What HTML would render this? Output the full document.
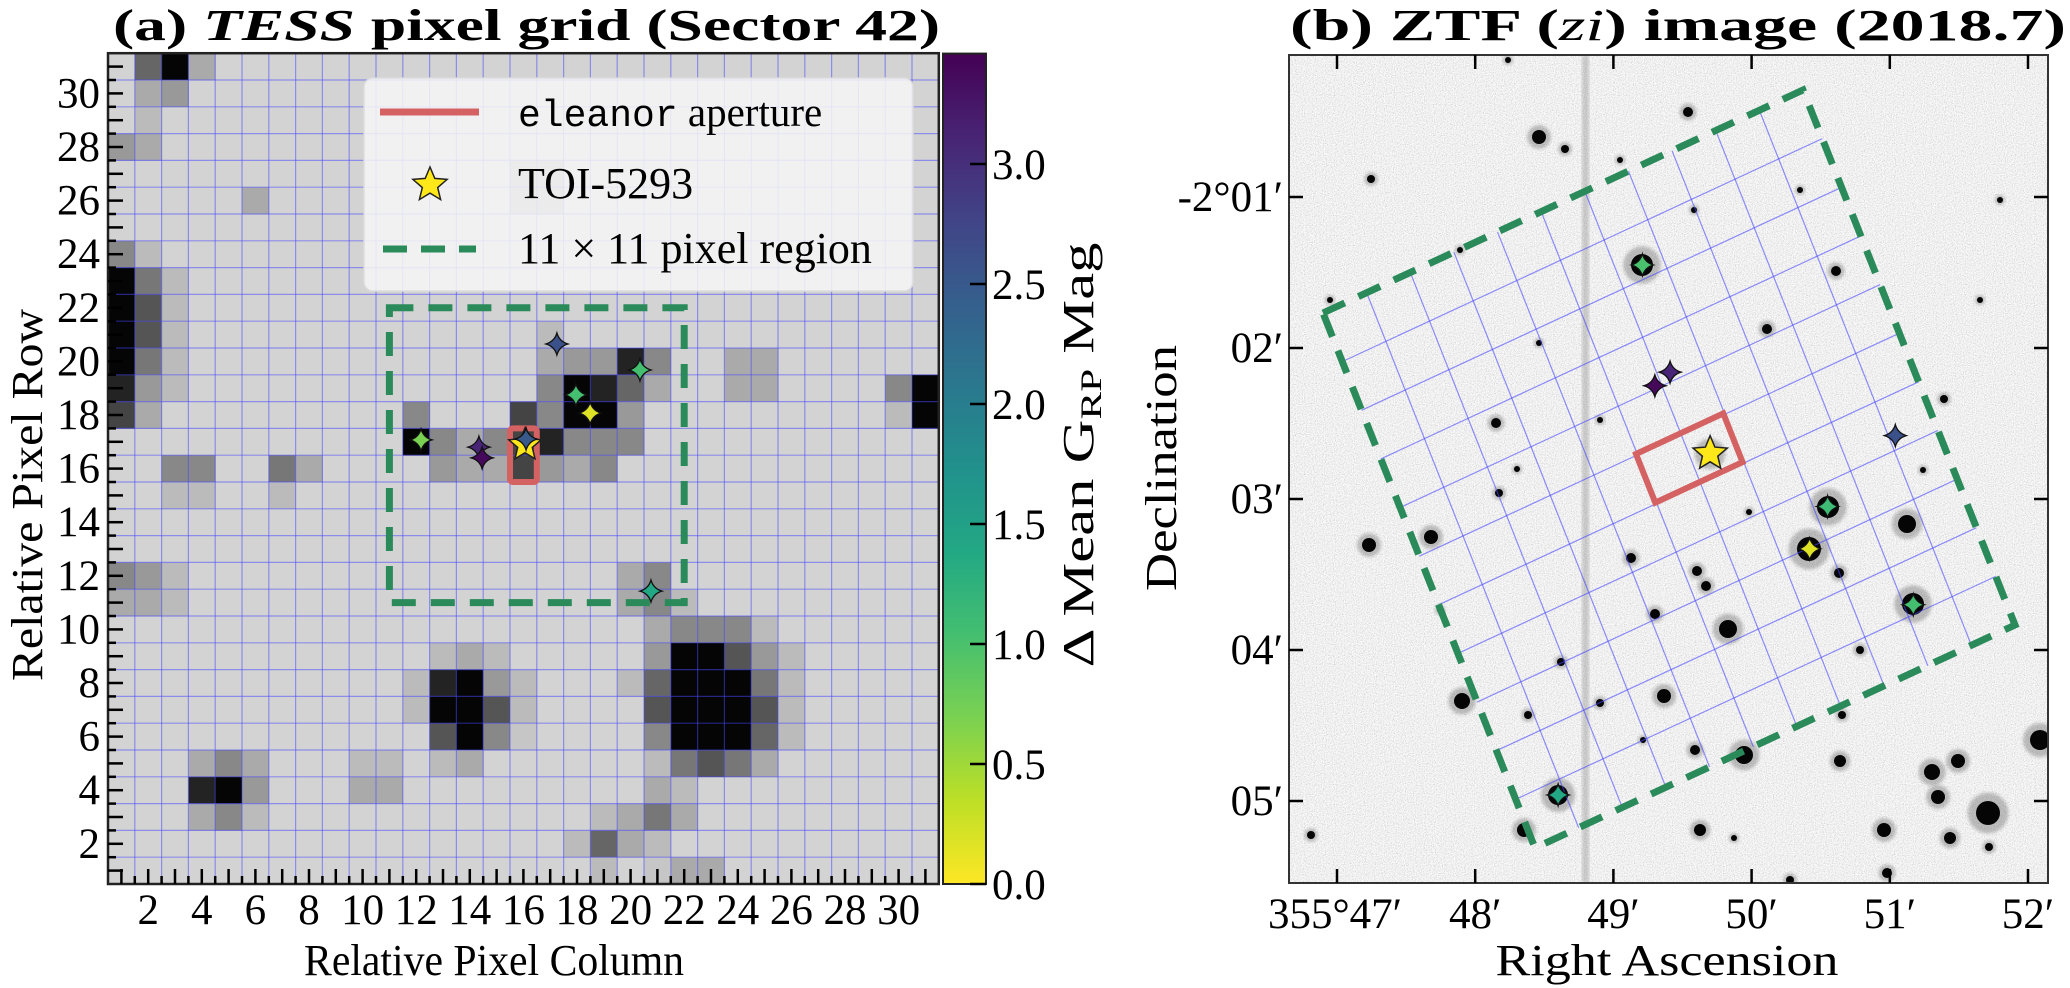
<!DOCTYPE html>
<html><head><meta charset="utf-8"><style>
html,body{margin:0;padding:0;background:#fff}
svg{display:block}
text{font-family:"Liberation Serif",serif;fill:#000}
</style></head><body>
<svg id="fig" width="2070" height="988" viewBox="0 0 2070 988" xmlns="http://www.w3.org/2000/svg">
<defs>
<linearGradient id="viridisV" x1="0" y1="1" x2="0" y2="0">
<stop offset="0" stop-color="#fde725"/><stop offset="0.1" stop-color="#bddf26"/><stop offset="0.2" stop-color="#7ad151"/><stop offset="0.3" stop-color="#44bf70"/><stop offset="0.4" stop-color="#22a884"/><stop offset="0.5" stop-color="#21918c"/><stop offset="0.6" stop-color="#2a788e"/><stop offset="0.7" stop-color="#355f8d"/><stop offset="0.8" stop-color="#414487"/><stop offset="0.9" stop-color="#482475"/><stop offset="1" stop-color="#440154"/>
</linearGradient>
<filter id="noise" x="0" y="0" width="100%" height="100%">
<feTurbulence type="fractalNoise" baseFrequency="0.9" numOctaves="2" seed="7"/>
<feColorMatrix type="saturate" values="0"/>
<feComponentTransfer><feFuncR type="linear" slope="1.3" intercept="0.25"/><feFuncG type="linear" slope="1.3" intercept="0.25"/><feFuncB type="linear" slope="1.3" intercept="0.25"/><feFuncA type="linear" slope="0" intercept="1"/></feComponentTransfer>
</filter>
<filter id="blur2"><feGaussianBlur stdDeviation="1.6"/></filter>
<clipPath id="clipB"><rect x="1289" y="55" width="759" height="828"/></clipPath>
</defs>
<g id="panelA"></g>
<g id="panelB"></g>
</svg>
<script>
// ---------- DATA ----------
// Panel (a) pixel grey levels; first string = row 31, last = row 1; one char per column 1..31
const pixelMap = [
".408...........................",
".87............................",
".9.............................",
"78.............................",
"...............88..............",
".....8.........88..............",
"...............................",
"69.............................",
"059............................",
"039............................",
"039.............9..............",
"059.............87716..88......",
"179.............60148..88....60",
"28.........6...26007.........90",
"...........068621666...........",
"..66..58....7882786............",
"..99..9........................",
"...............................",
"...............................",
"679................86..........",
"889................869.........",
"....................86669......",
"............989.....700379.....",
"...........91079...9400059.....",
"...........90039....300039.....",
"............306c....600049.....",
"...868...99.98......95358......",
"...107...88.........89.........",
"...869............9858.........",
".................9489..........",
"..................9.c88........"
];
// Colour-coded neighbour stars in panel (a): pixel column, pixel row, delta mean G_RP mag
const nbCol = [17.25, 20.35, 17.96, 18.49, 12.18, 14.34, 14.46, 16.1, 20.76];
const nbRow = [20.65, 19.68, 18.75, 18.07, 17.07, 16.8, 16.4, 17.1, 11.43];
const nbMag = [2.6, 1.04, 1.04, 0.17, 0.69, 3.1, 3.39, 2.5, 1.38];
const targetA = [16.06, 16.88];
// Panel (b) neighbour stars: RA arcmin past 355°, Dec arcmin below -2°
const bRA  = [49.21, 49.41, 49.30, 51.04, 50.55, 50.42, 51.17, 48.60];
const bDec = [1.45, 2.16, 2.25, 2.58, 3.05, 3.33, 3.70, 4.96];
const bMag = [1.0, 3.1, 3.39, 2.6, 1.1, 0.17, 1.04, 1.38];
const targetB = [49.70, 2.70];
const xTicksA = [2,4,6,8,10,12,14,16,18,20,22,24,26,28,30];
const yTicksA = [2,4,6,8,10,12,14,16,18,20,22,24,26,28,30];
const cbTicks = [0.0,0.5,1.0,1.5,2.0,2.5,3.0];
const raTicks = [47,48,49,50,51,52];
const raLabels = ["355°47′","48′","49′","50′","51′","52′"];
const decTicks = [1,2,3,4,5];
const decLabels = ["-2°01′","02′","03′","04′","05′"];

// ---------- helpers ----------
const NS = "http://www.w3.org/2000/svg";
function mk(tag, attrs, parent){const e=document.createElementNS(NS,tag);for(const k in attrs)e.setAttribute(k,attrs[k]);parent.appendChild(e);return e;}
const greyMap = {"0":"#050505","1":"#232323","2":"#444","3":"#555","4":"#666","5":"#777","6":"#888","7":"#999","8":"#aaa","9":"#bbb","c":"#c6c6c6"};
const vir = ["#fde725","#bddf26","#7ad151","#44bf70","#22a884","#21918c","#2a788e","#355f8d","#414487","#482475","#440154"];
const CMAX = 3.46;
function hex2rgb(h){return [parseInt(h.substr(1,2),16),parseInt(h.substr(3,2),16),parseInt(h.substr(5,2),16)];}
function cmap(v){let t=Math.max(0,Math.min(1,v/CMAX))*10;let i=Math.min(9,Math.floor(t));let f=t-i;const a=hex2rgb(vir[i]),b=hex2rgb(vir[i+1]);
 return "rgb("+a.map((x,k)=>Math.round(x+(b[k]-x)*f)).join(",")+")";}
function star4(x,y,s){const q=s*0.22;return `M${x},${y-s} Q${x+q},${y-q} ${x+s},${y} Q${x+q},${y+q} ${x},${y+s} Q${x-q},${y+q} ${x-s},${y} Q${x-q},${y-q} ${x},${y-s} Z`;}
function star5(x,y,R){const r=R*0.45;let p="";for(let i=0;i<10;i++){const a=-Math.PI/2+i*Math.PI/5;const rr=i%2?r:R;p+=(i?"L":"M")+(x+rr*Math.cos(a)).toFixed(1)+","+(y+rr*Math.sin(a)).toFixed(1);}return p+"Z";}

// ---------- Panel A ----------
const A = document.getElementById("panelA");
const AX0=108, AY0=884, CW=26.8, NC=31;
const xA = c => AX0+(c-0.5)*CW;
const yA = r => AY0-(r-0.5)*CW;
let bg = mk("rect",{x:AX0,y:AY0-NC*CW,width:NC*CW,height:NC*CW,fill:"#d3d3d3"},A);


pixelMap.forEach((rowStr,ri)=>{
  const r = NC - ri;
  for(let ci=0;ci<rowStr.length;ci++){
    const ch=rowStr[ci]; if(ch===".") continue;
    const c=ci+1;
    const cell=mk("rect",{x:(xA(c)-CW/2).toFixed(2),y:(yA(r)-CW/2).toFixed(2),width:CW+0.3,height:CW+0.3,fill:greyMap[ch]},A);
    
    
  }
});
const gA = mk("g",{stroke:"rgba(70,70,255,0.5)","stroke-width":1.2},A);


for(let k=1;k<NC;k++){
  mk("line",{x1:AX0+k*CW,y1:AY0-NC*CW,x2:AX0+k*CW,y2:AY0},gA);
  mk("line",{x1:AX0,y1:AY0-k*CW,x2:AX0+NC*CW,y2:AY0-k*CW},gA);
}
const reg = mk("rect",{x:xA(10.5)+CW/2,y:yA(21.5)-CW/2,width:11*CW,height:11*CW,fill:"none",stroke:"#2a8a5a","stroke-width":7,"stroke-dasharray":"24 15"},A);


const ap = mk("rect",{x:xA(16)-CW/2,y:yA(17)-CW/2,width:CW,height:2*CW,rx:3,fill:"none",stroke:"#d46262","stroke-width":6},A);


nbCol.forEach((c,i)=>{
  const m=mk("path",{d:star4(xA(c),yA(nbRow[i]),11),fill:cmap(nbMag[i]),stroke:"#111","stroke-width":1.3},A);
  
  
});
const tA = mk("path",{d:star5(xA(targetA[0]),yA(targetA[1]),17),fill:"#ffe81a",stroke:"#222","stroke-width":1.5},A);


const ov = mk("path",{d:star4(xA(nbCol[7]),yA(nbRow[7]),11),fill:cmap(nbMag[7]),stroke:"#111","stroke-width":1.3},A);


const frA = mk("rect",{x:AX0,y:AY0-NC*CW,width:NC*CW,height:NC*CW,fill:"none",stroke:"#222","stroke-width":2.5},A);


const tkA = mk("g",{stroke:"#000","stroke-width":2.5},A);


for(let v=1;v<=31;v++){
  mk("line",{x1:AX0,y1:yA(v),x2:AX0+15,y2:yA(v)},tkA);
  mk("line",{x1:xA(v),y1:AY0,x2:xA(v),y2:AY0-15},tkA);
  if(v<31){mk("line",{x1:AX0,y1:yA(v+0.5),x2:AX0+8,y2:yA(v+0.5)},tkA);
  mk("line",{x1:xA(v+0.5),y1:AY0,x2:xA(v+0.5),y2:AY0-8},tkA);}
}
yTicksA.forEach(v=>{const t=mk("text",{x:100,y:yA(v)+14,"font-size":43,"text-anchor":"end"},A);t.textContent=v;
 
 });
xTicksA.forEach(v=>{const t=mk("text",{x:xA(v),y:924,"font-size":43,"text-anchor":"middle"},A);t.textContent=v;
 
 });
const lg = mk("g",{},A);


mk("rect",{x:364,y:78,width:549,height:213,rx:9,fill:"rgba(246,246,246,0.86)",stroke:"rgba(220,220,220,0.9)","stroke-width":1.5},lg);
const l1=mk("line",{x1:380,y1:112,x2:479,y2:112,stroke:"#d46262","stroke-width":7},lg);


const lt1=mk("text",{x:518,y:126,"font-size":41},lg);
lt1.innerHTML='<tspan font-family="Liberation Mono, monospace" font-size="38">eleanor</tspan> aperture';


const ls=mk("path",{d:star5(430,185,18),fill:"#ffe81a",stroke:"#222","stroke-width":1.5},lg);


const lt2=mk("text",{x:518,y:198,"font-size":44},lg);lt2.textContent="TOI-5293";


const l3=mk("line",{x1:383,y1:249,x2:476,y2:249,stroke:"#2a8a5a","stroke-width":7,"stroke-dasharray":"24 14"},lg);


const lt3=mk("text",{x:518,y:263,"font-size":44},lg);lt3.textContent="11 × 11 pixel region";


const ttA=mk("text",{x:113,y:40,"font-size":44,"font-weight":"bold",textLength:827,lengthAdjust:"spacingAndGlyphs"},A);
ttA.innerHTML='(a) <tspan font-style="italic">TESS</tspan> pixel grid (Sector 42)';


const xlA=mk("text",{x:494,y:975,"font-size":44,"text-anchor":"middle",textLength:380,lengthAdjust:"spacingAndGlyphs"},A);xlA.textContent="Relative Pixel Column";


const ylA=mk("text",{x:0,y:0,"font-size":44,"text-anchor":"middle",textLength:372,lengthAdjust:"spacingAndGlyphs",transform:"translate(42,495) rotate(-90)"},A);ylA.textContent="Relative Pixel Row";


const CBX=943, CBW=43, cbY = v => AY0 - v*240;
const cb=mk("rect",{x:CBX,y:cbY(CMAX),width:CBW,height:CMAX*240,fill:"url(#viridisV)",stroke:"#222","stroke-width":2},A);


cbTicks.forEach(v=>{
  mk("line",{x1:CBX+CBW-16,y1:cbY(v),x2:CBX+CBW,y2:cbY(v),stroke:"#000","stroke-width":2.5},A);
  const t=mk("text",{x:992,y:cbY(v)+15,"font-size":43},A);t.textContent=v.toFixed(1);
  
  
});
const cbl=mk("text",{x:0,y:0,"font-size":44,"text-anchor":"middle",textLength:425,lengthAdjust:"spacingAndGlyphs",transform:"translate(1093,455) rotate(-90)"},A);
cbl.innerHTML='Δ Mean G<tspan font-size="30" dy="8">RP</tspan><tspan dy="-8"> Mag</tspan>';



// ---------- Panel B ----------
const B = document.getElementById("panelB");
const BX0=1289,BX1=2048,BY0=55,BY1=883;
const xB = ra => 1337 + (ra-47)*138.2;
const yB = d => 197 + (d-1)*151;
const img = mk("g",{"clip-path":"url(#clipB)"},B);


mk("rect",{x:BX0,y:BY0,width:BX1-BX0,height:BY1-BY0,fill:"#e6e6e6"},img);
mk("rect",{x:BX0,y:BY0,width:BX1-BX0,height:BY1-BY0,filter:"url(#noise)",opacity:0.8},img);
mk("rect",{x:1582,y:BY0,width:7,height:BY1-BY0,fill:"#8a8a8a",opacity:0.4,filter:"url(#blur2)"},img);
const field=[[1508,60,3],[1539,137,7],[1565,149,4],[1688,112,5],[1371,179,4],[1694,210,3],[1836,271,5],[1767,329,5],[1539,343,3],[1496,423,5],[1517,469,3],[1499,493,4],[1944,399,4],[1923,470,3],[1749,512,3],[1907,524,9],[1431,537,7],[1369,545,7],[1631,558,5],[1697,571,5],[1706,586,5],[1839,573,5],[1655,614,5],[1728,629,9],[1561,662,4],[1600,703,4],[1462,701,8],[1664,696,7],[1528,715,4],[1643,740,3],[1695,750,5],[1744,755,9],[1842,715,4],[1840,761,6],[1932,772,8],[1958,761,7],[1938,797,7],[1988,813,12],[2040,740,10],[1884,830,7],[1950,838,6],[1989,847,4],[1734,838,3],[1700,830,6],[1524,830,7],[1887,873,5],[1311,835,4],
 [1642,265,11],[1828,507,11],[1809,549,12],[1913,604,11],[1558,795,10],[1710,454,9],[1620,160,3],[1460,250,3],[1800,190,3],[1980,300,3],[2000,200,3],[1440,610,3],[1600,420,3],[1860,650,4],[1790,880,4],[1330,300,3]];
field.forEach(s=>{
  mk("circle",{cx:s[0],cy:s[1],r:s[2]*1.7,fill:"#555",opacity:0.35,filter:"url(#blur2)"},img);
  const d=mk("circle",{cx:s[0],cy:s[1],r:s[2],fill:"#050505"},img);
  
  
});
const PA=[1323,313], PB=[1803,90], PD=[1535,848];
const gB=mk("g",{stroke:"rgba(70,70,255,0.6)","stroke-width":1.2},img);


const u=[(PB[0]-PA[0])/11,(PB[1]-PA[1])/11], w=[(PD[0]-PA[0])/11,(PD[1]-PA[1])/11];
for(let k=1;k<11;k++){
  mk("line",{x1:PA[0]+u[0]*k,y1:PA[1]+u[1]*k,x2:PA[0]+u[0]*k+w[0]*11,y2:PA[1]+u[1]*k+w[1]*11},gB);
  mk("line",{x1:PA[0]+w[0]*k,y1:PA[1]+w[1]*k,x2:PA[0]+w[0]*k+u[0]*11,y2:PA[1]+w[1]*k+u[1]*11},gB);
}
const PC=[PB[0]+w[0]*11,PB[1]+w[1]*11];
const regB=mk("polygon",{points:`${PA} ${PB} ${PC} ${PD}`,fill:"none",stroke:"#2a8a5a","stroke-width":7,"stroke-dasharray":"24 15"},img);


const ap0=[1636,454];
const apB=mk("polygon",{points:`${ap0} ${ap0[0]+u[0]*2},${ap0[1]+u[1]*2} ${ap0[0]+u[0]*2+w[0]},${ap0[1]+u[1]*2+w[1]} ${ap0[0]+w[0]},${ap0[1]+w[1]}`,fill:"none",stroke:"#d46262","stroke-width":6},img);


bRA.forEach((ra,i)=>{
  const m=mk("path",{d:star4(xB(ra),yB(bDec[i]),11),fill:cmap(bMag[i]),stroke:"#111","stroke-width":1.3},img);
  
  
});
const tB=mk("path",{d:star5(xB(targetB[0]),yB(targetB[1]),18),fill:"#ffe81a",stroke:"#222","stroke-width":1.5},img);


const frB=mk("rect",{x:BX0,y:BY0,width:BX1-BX0,height:BY1-BY0,fill:"none",stroke:"#333","stroke-width":2},B);


const tkB=mk("g",{stroke:"#000","stroke-width":2.5},B);


decTicks.forEach((d,i)=>{
  mk("line",{x1:BX0,y1:yB(d),x2:BX0+14,y2:yB(d)},tkB);
  mk("line",{x1:BX1-14,y1:yB(d),x2:BX1,y2:yB(d)},tkB);
  const t=mk("text",{x:1283,y:yB(d)+14,"font-size":43,"text-anchor":"end"},B);t.textContent=decLabels[i];
  
  
});
raTicks.forEach((r,i)=>{
  mk("line",{x1:xB(r),y1:BY1,x2:xB(r),y2:BY1-14},tkB);
  mk("line",{x1:xB(r),y1:BY0,x2:xB(r),y2:BY0+14},tkB);
  const t=mk("text",{x:xB(r)-(i==0?2:0),y:928,"font-size":43,"text-anchor":"middle"},B);t.textContent=raLabels[i];
  
  
});
const ttB=mk("text",{x:1290,y:40,"font-size":44,"font-weight":"bold",textLength:776,lengthAdjust:"spacingAndGlyphs"},B);
ttB.innerHTML='(b) ZTF (<tspan font-style="italic" font-weight="normal">zi</tspan>) image (2018.7)';


const xlB=mk("text",{x:1667,y:975,"font-size":44,"text-anchor":"middle",textLength:343,lengthAdjust:"spacingAndGlyphs"},B);xlB.textContent="Right Ascension";


const ylB=mk("text",{x:0,y:0,"font-size":44,"text-anchor":"middle",textLength:246,lengthAdjust:"spacingAndGlyphs",transform:"translate(1176,468) rotate(-90)"},B);ylB.textContent="Declination";


</script>
</body></html>
